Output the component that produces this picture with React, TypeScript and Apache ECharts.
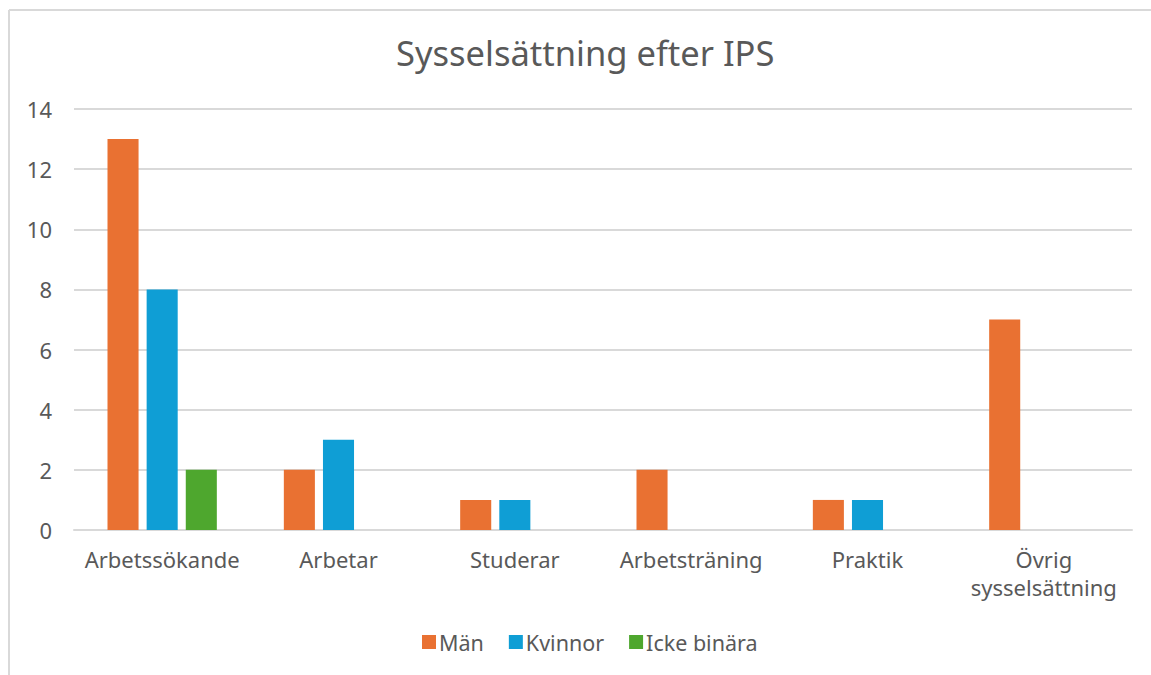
import React, { useEffect, useRef } from "react";
import * as echarts from "echarts";

const categories = ["Arbetssökande", "Arbetar", "Studerar", "Arbetsträning", "Praktik", "Övrig\nsysselsättning"];
const man = [13, 2, 1, 2, 1, 7];
const kvinnor = [8, 3, 1, 0, 1, 0];
const ickeBinara = [2, 0, 0, 0, 0, 0];
const yTicks = { min: 0, max: 14, interval: 2 };

const FONT = "'Noto Sans', 'Open Sans', sans-serif";
const TEXT = "#595959";

export default function App() {
  const ref = useRef<HTMLDivElement>(null);
  useEffect(() => {
    if (!ref.current) return;
    const chart = echarts.init(ref.current, undefined, { renderer: "svg" });
    chart.setOption({
      animation: false,
      backgroundColor: "#ffffff",
      title: {
        text: "Sysselsättning efter IPS",
        left: 391,
        top: 30,
        textStyle: { fontFamily: FONT, fontSize: 34.5, fontWeight: "normal", color: TEXT },
      },
      legend: {
        bottom: 17,
        left: 417,
        itemWidth: 14,
        itemHeight: 14,
        itemGap: 25,
        icon: "rect",
        textStyle: { fontFamily: FONT, fontSize: 21.5, color: TEXT, padding: [0, 0, 0, -2] },
        data: ["Män", "Kvinnor", "Icke binära"],
      },
      grid: { left: 74, right: 19, top: 109, bottom: 145, containLabel: false },
      xAxis: {
        type: "category",
        data: categories,
        axisLine: { lineStyle: { color: "#d9d9d9", width: 2 } },
        axisTick: { show: false },
        axisLabel: { fontFamily: FONT, fontSize: 22, color: TEXT, margin: 15, lineHeight: 28, interval: 0 },
      },
      yAxis: {
        type: "value",
        min: yTicks.min,
        max: yTicks.max,
        interval: yTicks.interval,
        axisLine: { show: false },
        axisTick: { show: false },
        axisLabel: { fontFamily: FONT, fontSize: 22, color: TEXT, margin: 22 },
        splitLine: { lineStyle: { color: "#d9d9d9", width: 2 } },
      },
      graphic: [
        { type: "line", shape: { x1: 9, y1: 10, x2: 1151, y2: 10 }, style: { stroke: "#d9d9d9", lineWidth: 2 } },
        { type: "line", shape: { x1: 9, y1: 10, x2: 9, y2: 675 }, style: { stroke: "#d9d9d9", lineWidth: 2 } },
      ],
      series: [
        { name: "Män", type: "bar", data: man, itemStyle: { color: "#E97132" }, barGap: "26%", barCategoryGap: "38%" },
        { name: "Kvinnor", type: "bar", data: kvinnor, itemStyle: { color: "#0F9ED5" } },
        { name: "Icke binära", type: "bar", data: ickeBinara, itemStyle: { color: "#4EA72E" } },
      ],
    });
    return () => chart.dispose();
  }, []);
  return <div ref={ref} style={{ position: "fixed", left: 0, top: 0, width: 1151, height: 675 }} />;
}
